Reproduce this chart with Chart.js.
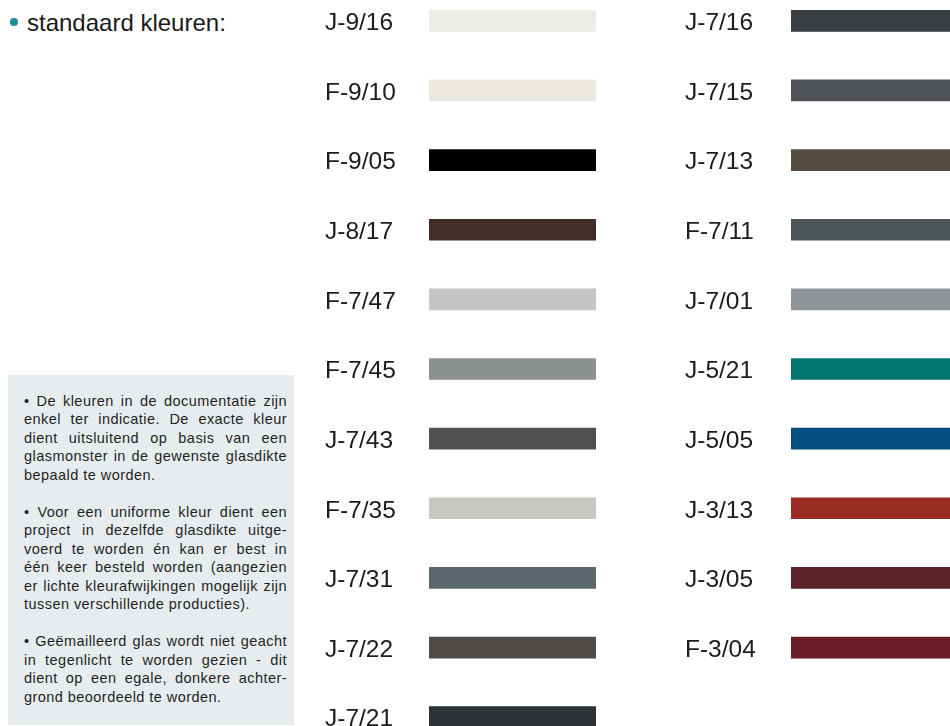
<!DOCTYPE html>
<html>
<head>
<meta charset="utf-8">
<script src="https://cdn.jsdelivr.net/npm/chart.js@4"></script>
<style>
html,body{margin:0;padding:0;width:950px;height:726px;overflow:hidden;background:#ffffff;font-family:"Liberation Sans",Arial,Helvetica,sans-serif;color:#1a1a1a;}
#title{position:absolute;left:27px;top:10.7px;font-size:24px;line-height:24px;white-space:nowrap;}
#dot{position:absolute;left:9.5px;top:17.7px;width:8px;height:8px;border-radius:50%;background:#1a8d9b;}
#info{position:absolute;left:8px;top:375px;width:286px;height:350px;background:#e7edef;box-sizing:border-box;padding:16.7px 7px 0 16px;font-size:14.5px;letter-spacing:0.45px;line-height:18.5px;color:#1f1f1f;}
#info .p{margin:0 0 18.5px 0;}
#info .l{text-align:justify;text-align-last:justify;white-space:nowrap;}
#info .e{text-align:left;text-align-last:left;white-space:nowrap;}
.col{position:absolute;top:-14px;height:766px;}
#leftWrap{left:325px;width:271px;}
#rightWrap{left:685px;width:265px;}
</style>
</head>
<body>
<div id="dot"></div>
<div id="title">standaard kleuren:</div>

<div id="info">
  <div class="p">
    <div class="l">• De kleuren in de documentatie zijn</div>
    <div class="l">enkel ter indicatie. De exacte kleur</div>
    <div class="l">dient uitsluitend op basis van een</div>
    <div class="l">glasmonster in de gewenste glasdikte</div>
    <div class="e">bepaald te worden.</div>
  </div>
  <div class="p">
    <div class="l">• Voor een uniforme kleur dient een</div>
    <div class="l">project in dezelfde glasdikte uitge-</div>
    <div class="l">voerd te worden én kan er best in</div>
    <div class="l">één keer besteld worden (aangezien</div>
    <div class="l">er lichte kleurafwijkingen mogelijk zijn</div>
    <div class="e">tussen verschillende producties).</div>
  </div>
  <div class="p">
    <div class="l">• Geëmailleerd glas wordt niet geacht</div>
    <div class="l">in tegenlicht te worden gezien - dit</div>
    <div class="l">dient op een egale, donkere achter-</div>
    <div class="e">grond beoordeeld te worden.</div>
  </div>
</div>

<div id="leftWrap" class="col"><canvas id="leftChart"></canvas></div>
<div id="rightWrap" class="col"><canvas id="rightChart"></canvas></div>

<script>
// ---- data ----
const leftCodes = ["J-9/16","F-9/10","F-9/05","J-8/17","F-7/47","F-7/45","J-7/43","F-7/35","J-7/31","J-7/22","J-7/21"];
const leftValues = [1,1,1,1,1,1,1,1,1,1,1];
const leftColors = ["#ecece8","#ece9e1","#000000","#432d28","#c5c5c4","#8c9190","#4f5150","#c6c7c2","#5c676c","#4f4b46","#2f3336"];

const rightCodes = ["J-7/16","J-7/15","J-7/13","F-7/11","J-7/01","J-5/21","J-5/05","J-3/13","J-3/05","F-3/04"];
const rightValues = [1,1,1,1,1,1,1,1,1,1];
const rightColors = ["#383e41","#4f5256","#574c41","#4e5558","#8f9599","#00766f","#004f80","#982b22","#5a2226","#6b1c24"];

const rowCount = 11;

function makeChart(id, codes, values, colors, axisWidth) {
  const labels = codes.slice();
  while (labels.length < rowCount) labels.push("");
  return new Chart(document.getElementById(id), {
    type: "bar",
    data: {
      labels: labels,
      datasets: [{
        data: values,
        backgroundColor: colors,
        borderWidth: 0,
        barThickness: 21
      }]
    },
    options: {
      indexAxis: "y",
      responsive: true,
      maintainAspectRatio: false,
      animation: false,
      events: [],
      layout: { padding: 0 },
      plugins: { legend: { display: false }, tooltip: { enabled: false } },
      scales: {
        x: { min: 0, max: 1, display: false },
        y: {
          grid: { display: false, drawTicks: false },
          border: { display: false },
          ticks: {
            crossAlign: "far",
            padding: 0,
            labelOffset: 2.5,
            autoSkip: false,
            color: "#1c1c1c",
            font: { family: "'Liberation Sans', Arial, sans-serif", size: 24.5 }
          },
          afterFit: function (s) { s.width = axisWidth; s.paddingTop = 0; s.paddingBottom = 0; }
        }
      }
    }
  });
}

makeChart("leftChart", leftCodes, leftValues, leftColors, 104);
makeChart("rightChart", rightCodes, rightValues, rightColors, 106);
</script>
</body>
</html>
